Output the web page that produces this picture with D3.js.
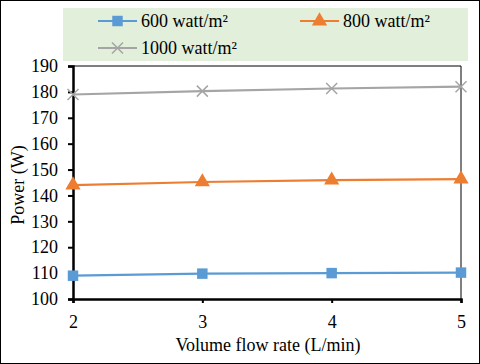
<!DOCTYPE html>
<html><head><meta charset="utf-8">
<script src="https://cdn.jsdelivr.net/npm/d3@7"></script>
<style>body{margin:0;background:#fff}svg{display:block}</style>
</head><body>
<script>
const flowRates = [2, 3, 4, 5];
const s600 = [109.0, 109.8, 110.0, 110.2];
const s800 = [144.0, 145.2, 145.9, 146.3];
const s1000 = [179.0, 180.3, 181.3, 182.0];
const yTicks = [100, 110, 120, 130, 140, 150, 160, 170, 180, 190];
const seriesNames = ["600 watt/m²", "800 watt/m²", "1000 watt/m²"];
const colors = ["#5b9bd5", "#ed7d31", "#a5a5a5"];
const series = [s600, s800, s1000];
const FONT = "'Liberation Serif', 'Times New Roman', Times, serif";

const W = 480, H = 364;
const svg = d3.select("body").append("svg").attr("width", W).attr("height", H);
svg.append("rect").attr("x",0.5).attr("y",0.5).attr("width",W-1).attr("height",H-1).attr("fill","#fff").attr("stroke","#000");

const x = d3.scaleLinear().domain([2,5]).range([73,461]);
const y = d3.scaleLinear().domain([100,190]).range([299,66]);

// legend
svg.append("rect").attr("x",63).attr("y",8).attr("width",405).attr("height",53).attr("fill","#e2efda");
const legPos = [[98,21],[300,21],[98,48]];
const symbols = [d3.symbolSquare, d3.symbolTriangle, null];
function drawMarker(g, i, cx, cy){
  if (i===2){
    const r=5.5;
    g.append("path").attr("d",`M${cx-r},${cy-r}L${cx+r},${cy+r}M${cx-r},${cy+r}L${cx+r},${cy-r}`)
     .attr("stroke",colors[i]).attr("stroke-width",1.5).attr("fill","none");
  } else {
    g.append("path").attr("d", d3.symbol().type(symbols[i]).size(i===0?110:100)())
     .attr("transform",`translate(${cx},${cy})`).attr("fill",colors[i]);
  }
}
seriesNames.forEach((n,i)=>{
  const [lx,ly]=legPos[i];
  const g=svg.append("g");
  g.append("line").attr("x1",lx).attr("x2",lx+39).attr("y1",ly).attr("y2",ly).attr("stroke",colors[i]).attr("stroke-width",2.2);
  drawMarker(g,i,lx+19.5,ly);
  g.append("text").attr("x",lx+43).attr("y",ly+6).attr("font-size",18).text(n);
});

// plot border
svg.append("line").attr("x1",73).attr("x2",461).attr("y1",66).attr("y2",66).attr("stroke","#000").attr("stroke-width",1);
svg.append("line").attr("x1",461).attr("x2",461).attr("y1",66).attr("y2",299).attr("stroke","#000").attr("stroke-width",1);

// axes
const yAxis = svg.append("g").attr("transform","translate(73,0)")
  .call(d3.axisLeft(y).tickValues(yTicks).tickSize(5).tickPadding(10));
yAxis.select(".domain").attr("stroke-width",2.5);
yAxis.selectAll(".tick line").attr("stroke-width",2);
yAxis.selectAll("text").attr("font-size",18);

const xAxis = svg.append("g").attr("transform","translate(0,299)")
  .call(d3.axisBottom(x).tickValues(flowRates).tickFormat(d3.format("d")).tickSize(4).tickPadding(12));
xAxis.select(".domain").attr("stroke-width",2.5);
xAxis.selectAll(".tick line").attr("stroke-width",2);
xAxis.selectAll("text").attr("font-size",18);

svg.append("text").attr("transform","translate(24,185) rotate(-90)").attr("text-anchor","middle").attr("font-size",18).text("Power (W)");
svg.append("text").attr("x",268).attr("y",351).attr("text-anchor","middle").attr("font-size",18).text("Volume flow rate (L/min)");

// series
series.forEach((vals,i)=>{
  const line=d3.line().x((d,j)=>x(flowRates[j])).y(d=>y(d));
  svg.append("path").datum(vals).attr("d",line).attr("fill","none").attr("stroke",colors[i]).attr("stroke-width",2.2);
  const g=svg.append("g");
  vals.forEach((v,j)=>drawMarker(g,i,x(flowRates[j]),y(v)));
});

svg.selectAll("text").style("font-family", FONT).style("fill","#000");
</script>
</body></html>
